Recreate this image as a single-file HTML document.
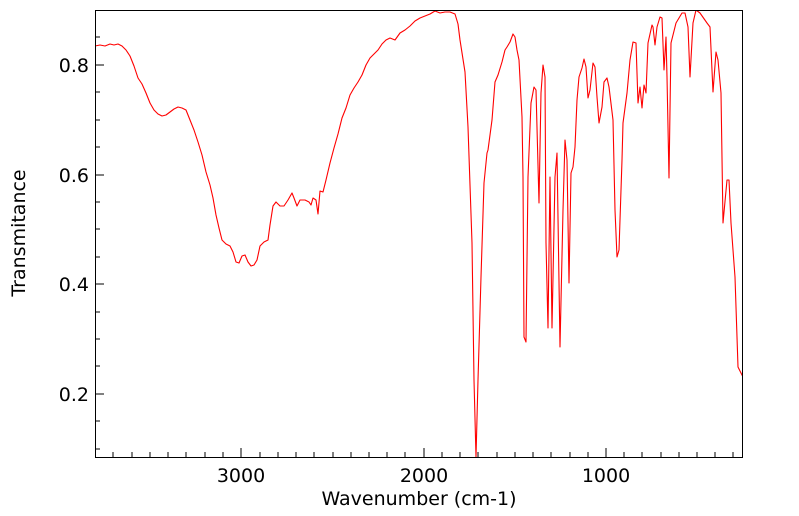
<!DOCTYPE html>
<html><head><meta charset="utf-8"><style>
html,body{margin:0;padding:0;background:#fff;}
svg{display:block;font-family:"DejaVu Sans","Liberation Sans",sans-serif;}
</style></head><body>
<svg width="799" height="516" viewBox="0 0 799 516" xmlns="http://www.w3.org/2000/svg">
<rect width="799" height="516" fill="#fff"/>
<clipPath id="c"><rect x="95" y="10" width="648" height="447"/></clipPath>
<polyline clip-path="url(#c)" fill="none" stroke="#ff0000" stroke-width="1.1" stroke-linejoin="round" points="
95,46 100,45 105,46 110,44 114,45 118,44 122,46 126,50 130,56 134,66 138,78 142,84 146,93 150,103 154,110 158,114 162,116 166,115 170,112 174,109 178,107 182,108 186,110 190,120 194,130 198,142 202,155 206,172 210,185 213,198 216,215 219,228 222,240 226,244 230,246 233,252 236,262 239,263 242,256 245,255 248,262 251,266 254,265 257,260 260,246 264,242 268,240 270,225 273,206 276,202 280,206 284,206 288,200 292,193 294,198 297,206 300,200 305,200 309,202 311,205 313,198 316,200 318,214 320,191 323,192 326,180 330,163 334,148 338,134 342,118 346,108 350,95 354,88 358,82 362,75 366,65 370,58 374,54 378,50 382,44 386,40 390,38 395,40 400,33 405,30 410,26 415,21 420,18 425,16 430,14 435,11 440,13 445,12 450,12 455,14 458,24 460,40 465,72 468,127 472,243 474,380 476,457 478,380 481,277 484,183 487,153 488,150 492,120 495,82 498,75 502,62 505,50 507,47 510,42 513,34 515,37 517,50 519,60 522,117 523,177 524,337 526,342 528,177 531,103 534,87 536,90 539,203 541,93 543,65 545,77 546,243 548,328 550,177 552,328 555,177 557,153 560,347 563,210 565,140 567,160 569,283 571,173 573,167 575,147 577,100 579,77 582,68 584,59 586,67 588,98 590,90 593,63 595,67 597,97 599,123 602,107 604,82 607,78 609,87 613,120 615,210 617,257 619,250 622,160 623,123 627,93 630,60 633,42 636,43 638,103 640,87 642,108 644,85 646,93 648,43 652,25 653,27 655,45 657,27 660,17 662,18 664,70 666,37 667,77 669,178 671,43 676,23 682,13 685,13 688,27 690,77 693,23 696,10 700,13 707,23 710,27 713,92 716,52 718,60 721,93 723,223 727,180 729,180 731,223 735,277 738,367 743,377"/>
<rect x="95.5" y="10.5" width="647" height="447" fill="none" stroke="#000" stroke-width="1"/>
<g stroke="#000" stroke-width="1">
<line x1="241" y1="457" x2="241" y2="448"/><line x1="424" y1="457" x2="424" y2="448"/><line x1="606" y1="457" x2="606" y2="448"/>
<g>
<line x1="113" y1="457" x2="113" y2="452"/><line x1="132" y1="457" x2="132" y2="452"/><line x1="150" y1="457" x2="150" y2="452"/><line x1="168" y1="457" x2="168" y2="452"/><line x1="186" y1="457" x2="186" y2="452"/><line x1="205" y1="457" x2="205" y2="452"/><line x1="223" y1="457" x2="223" y2="452"/>
<line x1="260" y1="457" x2="260" y2="452"/><line x1="278" y1="457" x2="278" y2="452"/><line x1="296" y1="457" x2="296" y2="452"/><line x1="314" y1="457" x2="314" y2="452"/><line x1="333" y1="457" x2="333" y2="452"/><line x1="351" y1="457" x2="351" y2="452"/><line x1="369" y1="457" x2="369" y2="452"/><line x1="387" y1="457" x2="387" y2="452"/><line x1="405" y1="457" x2="405" y2="452"/>
<line x1="442" y1="457" x2="442" y2="452"/><line x1="460" y1="457" x2="460" y2="452"/><line x1="478" y1="457" x2="478" y2="452"/><line x1="497" y1="457" x2="497" y2="452"/><line x1="515" y1="457" x2="515" y2="452"/><line x1="533" y1="457" x2="533" y2="452"/><line x1="551" y1="457" x2="551" y2="452"/><line x1="570" y1="457" x2="570" y2="452"/><line x1="588" y1="457" x2="588" y2="452"/>
<line x1="624" y1="457" x2="624" y2="452"/><line x1="642" y1="457" x2="642" y2="452"/><line x1="661" y1="457" x2="661" y2="452"/><line x1="679" y1="457" x2="679" y2="452"/><line x1="697" y1="457" x2="697" y2="452"/><line x1="715" y1="457" x2="715" y2="452"/><line x1="733" y1="457" x2="733" y2="452"/>
</g>
<line x1="95" y1="65" x2="104" y2="65"/><line x1="95" y1="175" x2="104" y2="175"/><line x1="95" y1="284" x2="104" y2="284"/><line x1="95" y1="394" x2="104" y2="394"/>
<line x1="95" y1="37" x2="100" y2="37"/><line x1="95" y1="92" x2="100" y2="92"/><line x1="95" y1="120" x2="100" y2="120"/><line x1="95" y1="147" x2="100" y2="147"/><line x1="95" y1="202" x2="100" y2="202"/><line x1="95" y1="229" x2="100" y2="229"/><line x1="95" y1="257" x2="100" y2="257"/><line x1="95" y1="312" x2="100" y2="312"/><line x1="95" y1="339" x2="100" y2="339"/><line x1="95" y1="366" x2="100" y2="366"/><line x1="95" y1="421" x2="100" y2="421"/><line x1="95" y1="449" x2="100" y2="449"/>
</g>
<g font-size="19" fill="#000">
<text x="89" y="72" text-anchor="end">0.8</text>
<text x="89" y="182" text-anchor="end">0.6</text>
<text x="89" y="291" text-anchor="end">0.4</text>
<text x="89" y="401" text-anchor="end">0.2</text>
<text x="241" y="482" text-anchor="middle">3000</text>
<text x="424" y="482" text-anchor="middle">2000</text>
<text x="606" y="482" text-anchor="middle">1000</text>
<text x="419" y="505" text-anchor="middle">Wavenumber (cm-1)</text>
<text transform="translate(25,233) rotate(-90)" text-anchor="middle">Transmitance</text>
</g>
</svg>
</body></html>
